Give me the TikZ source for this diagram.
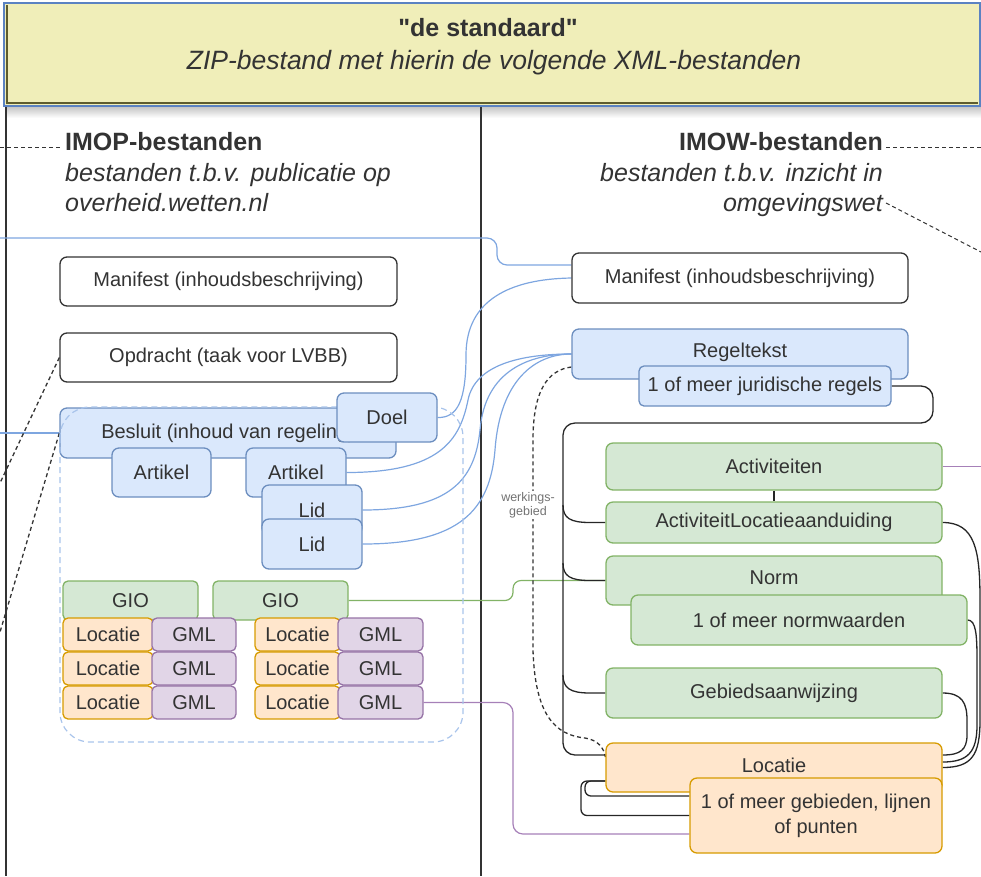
\documentclass[tikz,border=0pt]{standalone}
\usepackage{fontspec}
\setmainfont{Liberation Sans}[Ligatures=TeXOff]
\usetikzlibrary{calc}
\definecolor{bfill}{HTML}{DAE8FC}\definecolor{bdraw}{HTML}{6C8EBF}
\definecolor{gfill}{HTML}{D5E8D4}\definecolor{gdraw}{HTML}{82B366}
\definecolor{ofill}{HTML}{FFE6CC}\definecolor{odraw}{HTML}{D79B00}
\definecolor{pfill}{HTML}{E1D5E7}\definecolor{pdraw}{HTML}{9673A6}
\definecolor{txt}{HTML}{333333}
\definecolor{bline}{HTML}{7EA6E0}
\definecolor{gline}{HTML}{82B366}
\definecolor{pline}{HTML}{A680B8}
\definecolor{banfill}{HTML}{F0EEB9}
\definecolor{banblue}{HTML}{5B82C2}
\definecolor{olivec}{HTML}{5E5C2E}
\definecolor{contb}{HTML}{A9C4EB}
\pgfdeclarelayer{back}\pgfdeclarelayer{edges}
\pgfsetlayers{back,edges,main}
\tikzset{
  box/.style={rounded corners=7pt, line width=1.3pt, text=txt, inner sep=0pt, align=center,
    font=\fontsize{20}{25}\selectfont},
  wbox/.style={box, draw=txt, fill=white},
  bbox/.style={box, draw=bdraw, fill=bfill},
  gbox/.style={box, draw=gdraw, fill=gfill},
  obox/.style={box, draw=odraw, fill=ofill},
  pbox/.style={box, draw=pdraw, fill=pfill},
  sml/.style={rounded corners=5pt},
  hdr/.style={inner sep=0pt, text=txt, font=\bfseries\fontsize{25}{30}\selectfont},
  hdri/.style={inner sep=0pt, text=txt, font=\itshape\fontsize{25}{30}\selectfont},
  bl/.style={draw=bline, line width=1.2pt},
  blk/.style={draw=black!85, line width=1.3pt},
  dsh/.style={draw=black!80, line width=1.3pt, dash pattern=on 4pt off 3pt},
}
\begin{document}
\begin{tikzpicture}[x=1pt,y=-1pt]
\useasboundingbox (0,0) rectangle (981,876);

% ---------- banner and frame ----------
\begin{pgfonlayer}{back}
\shade[top color=black!22, bottom color=white] (6,107) rectangle (981,118);
\draw[txt, line width=1.5pt] (6,106) -- (6,876);
\draw[txt, line width=1.5pt] (481,106) -- (481,876);
\end{pgfonlayer}
\node[draw=banblue, fill=banfill, line width=2pt, minimum width=976pt, minimum height=103pt, inner sep=0pt] (banner) at (492,54.5) {};
\draw[olivec, line width=1.5pt] (7,5) -- (7,103) -- (978,103);
\node[anchor=base, inner sep=0pt, text=txt, font=\bfseries\fontsize{25}{30}\selectfont] (t1) at (488,36) {"de standaard"};
\node[anchor=base, inner sep=0pt, text=txt, font=\itshape\fontsize{26.5}{30}\selectfont] (t2) at (494,69) {ZIP-bestand met hierin de volgende XML-bestanden};

% ---------- headers ----------
\node[hdr, anchor=base west] (imop) at (65,150) {IMOP-bestanden};
\node[hdri, anchor=base west] (imops1) at (65,181) {bestanden t.b.v. publicatie op};
\node[hdri, anchor=base west] (imops2) at (65,211) {overheid.wetten.nl};
\node[hdr, anchor=base east] (imow) at (883,150) {IMOW-bestanden};
\node[hdri, anchor=base east] (imows1) at (883,181) {bestanden t.b.v. inzicht in};
\node[hdri, anchor=base east] (imows2) at (883,211) {omgevingswet};
\coordinate (hl) at (0,147);
\coordinate (hr) at (981,147);
\coordinate (hd) at (981,252);
\draw[dsh, line width=1pt] (hl) -- ([xshift=-4pt,yshift=3pt]imop.base west);
\draw[dsh, line width=1pt] ([xshift=3pt,yshift=3pt]imow.base east) -- (hr);
\draw[dsh, line width=1pt] ([xshift=3pt,yshift=8pt]imows2.base east) -- (hd);

% ---------- left column ----------
\node[wbox, minimum width=337pt, minimum height=49pt] (lman) at (228.5,281.5) {Manifest (inhoudsbeschrijving)};
\node[wbox, minimum width=337pt, minimum height=49pt] (lopd) at (228.5,357.5) {Opdracht (taak voor LVBB)};
\node[bbox, minimum width=336pt, minimum height=50pt] (besluit) at (228,433) {Besluit (inhoud van regeling)};
\draw[contb, line width=1.2pt, dash pattern=on 6pt off 4pt, rounded corners=30pt] (60,407) rectangle (463,742);
\node[bbox, minimum width=99pt, minimum height=49pt] (art1) at (161.5,472.5) {Artikel};
\node[bbox, minimum width=100pt, minimum height=49pt] (art2) at (296,472.5) {Artikel};
\node[bbox, minimum width=100pt, minimum height=49pt] (doel) at (387,417.5) {Doel};
\node[bbox, minimum width=100pt, minimum height=50pt] (lid1) at (312,510) {Lid};
\node[bbox, minimum width=100pt, minimum height=50pt] (lid2) at (312,544) {Lid};

\node[gbox, sml, minimum width=135pt, minimum height=39pt] (gio1) at (130.5,600.5) {GIO};
\node[gbox, sml, minimum width=135pt, minimum height=39pt] (gio2) at (280.5,600.5) {GIO};
\foreach \r/\y in {1/634.5,2/668.5,3/702.5}{
  \node[obox, sml, minimum width=90pt, minimum height=33pt] (la\r) at (108,\y) {Locatie};
  \node[pbox, sml, minimum width=84pt, minimum height=33pt] (ga\r) at (194,\y) {GML};
  \node[obox, sml, minimum width=85pt, minimum height=33pt] (lb\r) at (297.5,\y) {Locatie};
  \node[pbox, sml, minimum width=85pt, minimum height=33pt] (gb\r) at (380.5,\y) {GML};
}

% ---------- right column ----------
\node[wbox, minimum width=336pt, minimum height=50pt] (rman) at (740,278) {Manifest (inhoudsbeschrijving)};
\node[bbox, minimum width=336pt, minimum height=50pt, text depth=7pt] (regel) at (740,354) {Regeltekst};
\node[bbox, sml, minimum width=252pt, minimum height=40pt] (jur) at (765,386) {1 of meer juridische regels};
\node[gbox, minimum width=336pt, minimum height=47pt] (act) at (774,466.5) {Activiteiten};
\node[gbox, minimum width=336pt, minimum height=41pt] (ala) at (774,522.5) {ActiviteitLocatieaanduiding};
\node[gbox, minimum width=336pt, minimum height=49pt, text depth=5pt] (norm) at (774,580.5) {Norm};
\node[gbox, minimum width=336pt, minimum height=50pt] (normw) at (799,620) {1 of meer normwaarden};
\node[gbox, minimum width=336pt, minimum height=50pt] (gebied) at (774,693) {Gebiedsaanwijzing};
\node[obox, minimum width=336pt, minimum height=49pt, text depth=5pt] (rloc) at (774,767.5) {Locatie};
\node[obox, minimum width=252pt, minimum height=75pt] (geb) at (816,815.5) {1 of meer gebieden, lijnen\\of punten};
\node[inner sep=1pt, fill=white, text=black!55, align=center, font=\fontsize{12.5}{14}\selectfont] (werk) at (528,505) {werkings-\\gebied};

% ---------- connectors ----------
\coordinate (bl0) at (0,238);
\coordinate (bl1) at (0,433);
\coordinate (dl1) at (0,483);
\coordinate (dl2) at (0,632);
\coordinate (pr) at (981,466.5);
\begin{pgfonlayer}{edges}
% blue
\draw[bl, rounded corners=10pt] (bl0) -- (497,238) -- (497,265) -- ([yshift=13pt]rman.west);
\draw[bl] (doel.east) .. controls (458,418) and (466,400) .. (466,355) .. controls (466,300) and (510,279) .. (rman.west);
\draw[bl] (art2.east) .. controls (440,472.5) and (460,440) .. (468,400) .. controls (475,365) and (520,354) .. (regel.west);
\draw[bl] (lid1.east) .. controls (450,510) and (475,480) .. (480,430) .. controls (485,370) and (530,354) .. (regel.west);
\draw[bl] (lid2.east) .. controls (460,544) and (490,510) .. (495,450) .. controls (500,380) and (535,354) .. (regel.west);
\draw[bl] (bl1) -- (besluit.west);
% green / purple
\draw[draw=gline, line width=1.2pt, rounded corners=8pt] (gio2.east) -- (513,600.5) -- (513,580.5) -- (norm.west);
\draw[draw=pline, line width=1.2pt, rounded corners=10pt] (gb3.east) -- (513,702.5) -- (513,834) -- ([yshift=-18.5pt]geb.west);
\draw[draw=pline, line width=1.2pt] (act.east) -- (pr);
% black dashed
\draw[dsh] (lopd.west) -- (dl1);
\draw[dsh] (besluit.west) -- (dl2);
\draw[dsh] ([yshift=-13pt]regel.west) .. controls (548,370) and (533,390) .. (533,440) -- (533,650)
  .. controls (535,715) and (555,735) .. (585,738) .. controls (598,740) and (604,748) .. ([yshift=10.5pt]rloc.west);
% black trunk
\draw[blk, rounded corners=12pt] (jur.east) -- (933,386) -- (933,423) -- (563,423) -- (563,755) -- ([yshift=12.5pt]rloc.west);
\draw[blk] (563,505) .. controls (563,518) and (570,522.5) .. (590,522.5) -- (ala.west);
\draw[blk] (563,563) .. controls (563,576) and (570,580.5) .. (590,580.5) -- (norm.west);
\draw[blk] (563,675) .. controls (563,688) and (570,693) .. (590,693) -- (gebied.west);
\draw[blk] (act.south) -- (ala.north);
% right side curves
\draw[blk] (ala.east) .. controls (975,522.5) and (980,550) .. (980,600) -- (980,720)
  .. controls (980,755) and (972,767.5) .. (rloc.east);
\draw[blk] (normw.east) .. controls (976,620) and (977,635) .. (977,660) -- (977,725)
  .. controls (977,752) and (968,762) .. ([yshift=5.5pt]rloc.east);
\draw[blk] (gebied.east) .. controls (962,693) and (967,703) .. (967,720) -- (967,735)
  .. controls (967,750) and (960,755) .. ([yshift=12.5pt]rloc.east);
% bottom loops
\draw[blk, rounded corners=6pt] ([yshift=-13.5pt]rloc.west) -- (581,781) -- (581,815.5) -- (geb.west);
\draw[blk, rounded corners=6pt] ([yshift=-13.5pt]rloc.west) -- (585,781) -- (585,796) -- ([yshift=19.5pt]geb.west);
\end{pgfonlayer}
\end{tikzpicture}
\end{document}
